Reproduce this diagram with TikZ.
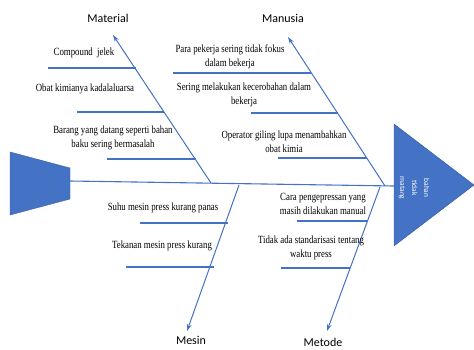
\documentclass[tikz,border=0pt]{standalone}
\usepackage{fontspec}
\setmainfont{Liberation Serif}
\newfontfamily\labfont{Carlito}
\newfontfamily\causefont[FakeStretch=0.8]{Liberation Serif}
\usetikzlibrary{arrows.meta}
\definecolor{fishblue}{HTML}{4472C4}
\begin{document}
\begin{tikzpicture}[x=1pt,y=-1pt,
  bone/.style={draw=fishblue,line width=1pt,-{Stealth[length=7pt,width=4.5pt]}},
  rib/.style={draw=fishblue,line width=1.2pt},
  spine/.style={draw=fishblue,line width=1.1pt},
  cause/.style={font=\causefont\fontsize{11}{14}\selectfont,align=center,inner sep=0pt,text=black},
  cat/.style={font=\labfont\fontsize{12}{14}\selectfont,inner sep=0pt},
  shapefill/.style={fill=fishblue,draw=fishblue!80!black,line width=0.4pt}]
\useasboundingbox (0,0) rectangle (474,349);
% tail and head
\fill[shapefill] (10,152) -- (70,168) -- (70,199) -- (10,215) -- cycle;
\fill[shapefill] (394,124) -- (474,185) -- (394,246) -- cycle;
\node[rotate=-90,font=\labfont\fontsize{7.5}{12}\selectfont,text=white,align=center,inner sep=0pt] (head) at (414,188) {bahan\\tidak\\matang};
\coordinate (tailR) at (70,181);
\coordinate (headL) at (394,186);
\draw[spine] (tailR) -- (headL);
% category labels
\node[cat] (lmat) at (108,18) {Material};
\node[cat] (lman) at (283,18) {Manusia};
\node[cat] (lmes) at (191,340) {Mesin};
\node[cat] (lmet) at (323,342) {Metode};
% bones
\coordinate (bmat) at (211,183);
\coordinate (tmat) at (113,35);
\coordinate (bman) at (385,186);
\coordinate (tman) at (288,37);
\coordinate (bmes) at (239,185);
\coordinate (tmes) at (187,331);
\coordinate (bmet) at (380,187);
\coordinate (tmet) at (327,331);
\draw[bone] (bmat) -- (tmat);
\draw[bone] (bman) -- (tman);
\draw[bone] (bmes) -- (tmes);
\draw[bone] (bmet) -- (tmet);
% Material causes
\node[cause] (c1) at (84,53) {Compound\ \ jelek};
\draw[rib] (48,68) coordinate (r1a) -- (136,68) coordinate (r1b);
\node[cause] (c2) at (85,89) {Obat kimianya kadalaluarsa};
\draw[rib] (77,112) coordinate (r2a) -- (164,112) coordinate (r2b);
\node[cause] (c3) at (113,138) {Barang yang datang seperti bahan\\baku sering bermasalah};
\draw[rib] (107,159) coordinate (r3a) -- (196,159) coordinate (r3b);
% Manusia causes
\node[cause] (c4) at (230,57) {Para pekerja sering tidak fokus\\dalam bekerja};
\draw[rib] (173,73) coordinate (r4a) -- (311,73) coordinate (r4b);
\node[cause] (c5) at (244,95) {Sering melakukan kecerobahan dalam\\bekerja};
\draw[rib] (251,113) coordinate (r5a) -- (338,113) coordinate (r5b);
\node[cause] (c6) at (284,142) {Operator giling lupa menambahkan\\obat kimia};
\draw[rib] (278,158) coordinate (r6a) -- (367,158) coordinate (r6b);
% Mesin causes
\node[cause] (c7) at (163,208) {Suhu mesin press kurang panas};
\draw[rib] (140,223) coordinate (r7a) -- (228,223) coordinate (r7b);
\node[cause] (c8) at (162,246) {Tekanan mesin press kurang};
\draw[rib] (126,267) coordinate (r8a) -- (214,267) coordinate (r8b);
% Metode causes
\node[cause] (c9) at (323,204) {Cara pengepressan yang\\masih dilakukan manual};
\draw[rib] (297,221) coordinate (r9a) -- (367,221) coordinate (r9b);
\node[cause] (c10) at (311,248) {Tidak ada standarisasi tentang\\waktu press};
\draw[rib] (281,268) coordinate (r10a) -- (350,268) coordinate (r10b);
\end{tikzpicture}
\end{document}
